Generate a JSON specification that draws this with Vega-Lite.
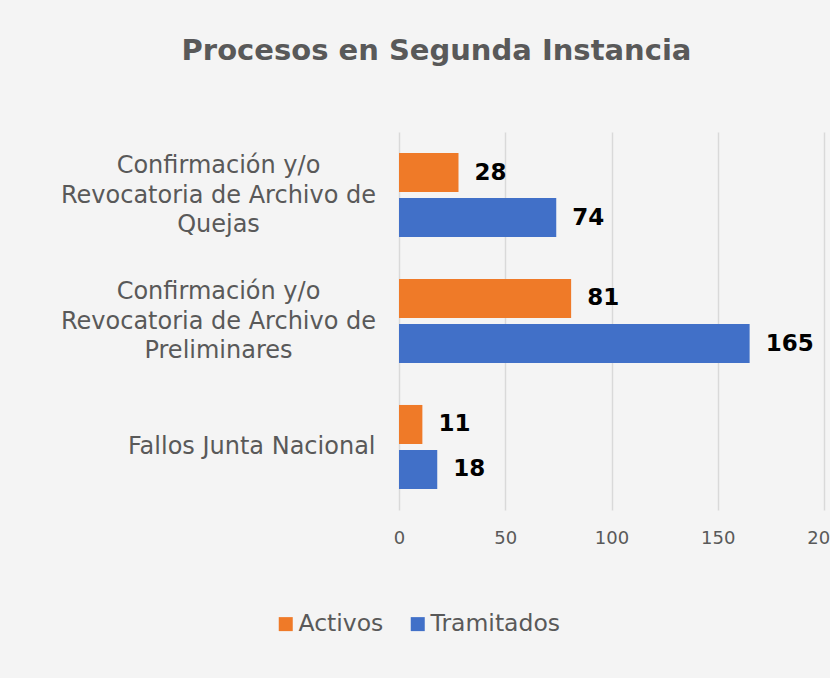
{
  "$schema": "https://vega.github.io/schema/vega-lite/v6.json",
  "autosize": {"type": "none"},
  "width": 425,
  "height": 378,
  "padding": {"left": 399, "top": 132, "right": 6, "bottom": 168},
  "background": "#f4f4f4",
  "title": {
    "text": "Procesos en Segunda Instancia",
    "font": "DejaVu Sans",
    "fontSize": 29,
    "fontWeight": "bold",
    "color": "#595959",
    "anchor": "middle",
    "dx": -175,
    "offset": 66
  },
  "data": {
    "values": [
      {"categoria": "Confirmación y/o Revocatoria de Archivo de Quejas", "serie": "Activos", "valor": 28},
      {"categoria": "Confirmación y/o Revocatoria de Archivo de Quejas", "serie": "Tramitados", "valor": 74},
      {"categoria": "Confirmación y/o Revocatoria de Archivo de Preliminares", "serie": "Activos", "valor": 81},
      {"categoria": "Confirmación y/o Revocatoria de Archivo de Preliminares", "serie": "Tramitados", "valor": 165},
      {"categoria": "Fallos Junta Nacional", "serie": "Activos", "valor": 11},
      {"categoria": "Fallos Junta Nacional", "serie": "Tramitados", "valor": 18}
    ]
  },
  "encoding": {
    "y": {
      "field": "categoria",
      "type": "nominal",
      "sort": ["Confirmación y/o Revocatoria de Archivo de Quejas", "Confirmación y/o Revocatoria de Archivo de Preliminares", "Fallos Junta Nacional"],
      "scale": {"paddingInner": 0.333, "paddingOuter": 0.1667},
      "axis": {
        "title": null,
        "domain": false,
        "ticks": false,
        "labelFont": "DejaVu Sans",
        "labelFontSize": 24,
        "labelColor": "#595959",
        "labelLineHeight": 29.5,
        "labelLimit": 400,
        "labelExpr": "datum.value == 'Fallos Junta Nacional' ? datum.value : ['Confirmación y/o', 'Revocatoria de Archivo de', replace(datum.value, 'Confirmación y/o Revocatoria de Archivo de ', '')]",
        "labelAlign": {"condition": {"test": "datum.value != 'Fallos Junta Nacional'", "value": "center"}, "value": "right"},
        "labelPadding": {"condition": {"test": "datum.value != 'Fallos Junta Nacional'", "value": 181}, "value": 24},
        "labelOffset": {"condition": {"test": "datum.value != 'Fallos Junta Nacional'", "value": -29}, "value": 0}
      }
    },
    "yOffset": {
      "field": "serie",
      "type": "nominal",
      "scale": {"domain": ["Activos", "Tramitados"], "paddingInner": 0.133, "paddingOuter": 0}
    },
    "x": {
      "field": "valor",
      "type": "quantitative",
      "scale": {"domain": [0, 200]},
      "axis": {
        "title": null,
        "values": [0, 50, 100, 150, 200],
        "domain": false,
        "ticks": false,
        "grid": true,
        "gridColor": "#d9d9d9",
        "gridWidth": 1.5,
        "labelPadding": 19,
        "labelFont": "DejaVu Sans",
        "labelFontSize": 18,
        "labelColor": "#595959",
        "labelFlush": false,
        "labelOverlap": false
      }
    }
  },
  "layer": [
    {
      "mark": {"type": "bar"},
      "encoding": {
        "color": {
          "field": "serie",
          "type": "nominal",
          "scale": {"domain": ["Activos", "Tramitados"], "range": ["#EF7A28", "#4170C8"]},
          "legend": {
            "title": null,
            "orient": "none",
            "direction": "horizontal",
            "legendX": -125,
            "legendY": 480,
            "padding": 0,
            "symbolType": "square",
            "symbolSize": 196,
            "symbolStrokeWidth": 0,
            "labelFont": "DejaVu Sans",
            "labelFontSize": 23.5,
            "labelColor": "#595959",
            "labelOffset": 1,
            "columnPadding": 22
          }
        }
      }
    },
    {
      "mark": {"type": "text", "align": "left", "baseline": "middle", "dx": 16, "font": "DejaVu Sans", "fontSize": 23, "fontWeight": "bold", "color": "#000000"},
      "encoding": {
        "text": {"field": "valor", "type": "quantitative"}
      }
    }
  ],
  "config": {
    "view": {"stroke": null}
  }
}
